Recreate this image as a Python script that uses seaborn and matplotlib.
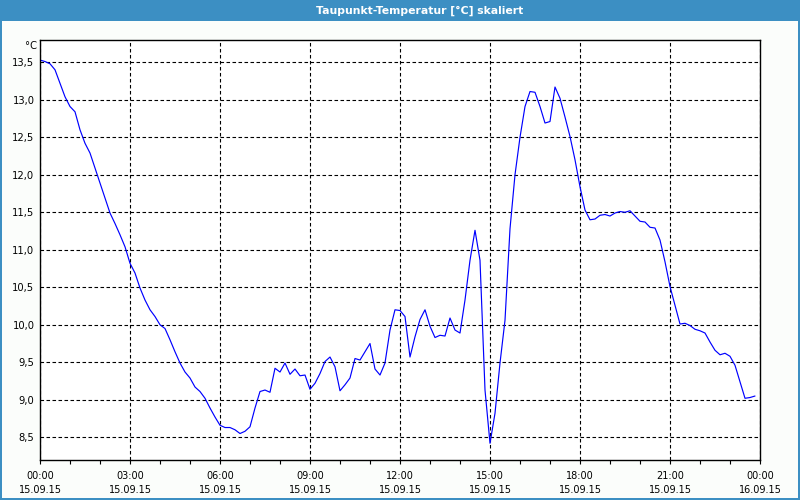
import numpy as np
import pandas as pd
import matplotlib
matplotlib.use("Agg")
import matplotlib.pyplot as plt
from matplotlib.patches import Rectangle
from matplotlib.ticker import MultipleLocator, FixedLocator
import seaborn as sns

# ---- data (10-minute samples, 15.09.15 00:00 .. 23:50) ----
hours = [i / 6 for i in range(144)]
dewpoint = [
    13.53, 13.51, 13.48, 13.40, 13.22, 13.04, 12.91, 12.84, 12.60, 12.42,
    12.29, 12.09, 11.89, 11.69, 11.49, 11.35, 11.20, 11.04, 10.82, 10.69,
    10.49, 10.33, 10.20, 10.11, 10.00, 9.95, 9.80, 9.64, 9.49, 9.37,
    9.29, 9.17, 9.11, 9.02, 8.89, 8.77, 8.66, 8.63, 8.63, 8.60,
    8.55, 8.58, 8.64, 8.89, 9.11, 9.13, 9.10, 9.42, 9.37, 9.49,
    9.34, 9.41, 9.32, 9.33, 9.14, 9.22, 9.35, 9.51, 9.57, 9.44,
    9.12, 9.20, 9.29, 9.55, 9.53, 9.64, 9.75, 9.41, 9.33, 9.49,
    9.93, 10.20, 10.19, 10.11, 9.57, 9.84, 10.07, 10.20, 9.98, 9.83,
    9.86, 9.85, 10.09, 9.93, 9.89, 10.33, 10.86, 11.26, 10.86, 9.13,
    8.42, 8.82, 9.49, 10.06, 11.28, 12.00, 12.50, 12.91, 13.11, 13.10,
    12.91, 12.69, 12.71, 13.17, 13.02, 12.77, 12.51, 12.20, 11.84, 11.53,
    11.40, 11.41, 11.46, 11.47, 11.45, 11.49, 11.51, 11.50, 11.52, 11.45,
    11.38, 11.37, 11.30, 11.29, 11.13, 10.84, 10.51, 10.26, 10.01, 10.02,
    9.99, 9.94, 9.92, 9.89, 9.77, 9.66, 9.60, 9.62, 9.58, 9.46,
    9.24, 9.02, 9.03, 9.05,
]
x_tick_hours = [0, 3, 6, 9, 12, 15, 18, 21, 24]
x_tick_labels = ["00:00\n15.09.15", "03:00\n15.09.15", "06:00\n15.09.15",
                 "09:00\n15.09.15", "12:00\n15.09.15", "15:00\n15.09.15",
                 "18:00\n15.09.15", "21:00\n15.09.15", "00:00\n16.09.15"]
y_ticks = [8.5, 9.0, 9.5, 10.0, 10.5, 11.0, 11.5, 12.0, 12.5, 13.0, 13.5]
y_tick_labels = [f"{v:.1f}".replace(".", ",") for v in y_ticks]
title = "Taupunkt-Temperatur [°C] skaliert"
unit = "°C"

df = pd.DataFrame({"h": hours, "v": dewpoint})

sns.set_style("white")
plt.rcParams["font.family"] = ["DejaVu Sans"]

W, H = 800, 500
fig = plt.figure(figsize=(8, 5), dpi=100, facecolor="#fbfdfb")
ax = fig.add_axes([40 / W, 40 / H, 720 / W, 420 / H])
ax.set_facecolor("white")

sns.lineplot(data=df, x="h", y="v", ax=ax, color="#0000ff", linewidth=0.85)

ax.set_xlim(0, 24)
ax.set_ylim(8.197, 13.797)
ax.xaxis.set_major_locator(FixedLocator(x_tick_hours))
ax.set_xticklabels(x_tick_labels, fontsize=7, linespacing=1.5)
ax.xaxis.set_minor_locator(MultipleLocator(1))
ax.set_yticks(y_ticks)
ax.set_yticklabels(y_tick_labels, fontsize=7.2)
ax.set_xlabel("")
ax.set_ylabel("")

ax.tick_params(axis="x", which="both", direction="out", length=3, width=0.8,
               pad=5, colors="black", bottom=True)
ax.tick_params(axis="y", which="both", length=0, pad=4, colors="black")

ax.grid(True, which="major", color="black", linestyle=(0, (3.2, 2.2)), linewidth=0.8)
ax.set_axisbelow(True)
for s in ax.spines.values():
    s.set_visible(True)
    s.set_color("black")
    s.set_linewidth(1.0)

# title bar
fig.patches.append(Rectangle((0, 1 - 21 / H), 1, 21 / H, transform=fig.transFigure,
                             facecolor="#3c8fc3", edgecolor="none", zorder=0))
fig.text(420 / W, 1 - 10.5 / H, title, color="white", fontsize=7.8, fontweight="bold",
         ha="center", va="center", family=["DejaVu Sans"])
# outer border
for rect in [(0, 0, 2 / W, 1), (1 - 2 / W, 0, 2 / W, 1), (0, 0, 1, 2 / H)]:
    fig.patches.append(Rectangle(rect[:2], rect[2], rect[3], transform=fig.transFigure,
                                 facecolor="#3c8fc3", edgecolor="none"))
# unit label
fig.text(37 / W, 1 - 46 / H, unit, fontsize=7.2, ha="right", va="center", color="black")

fig.savefig("out.png", dpi=100, facecolor=fig.get_facecolor())
